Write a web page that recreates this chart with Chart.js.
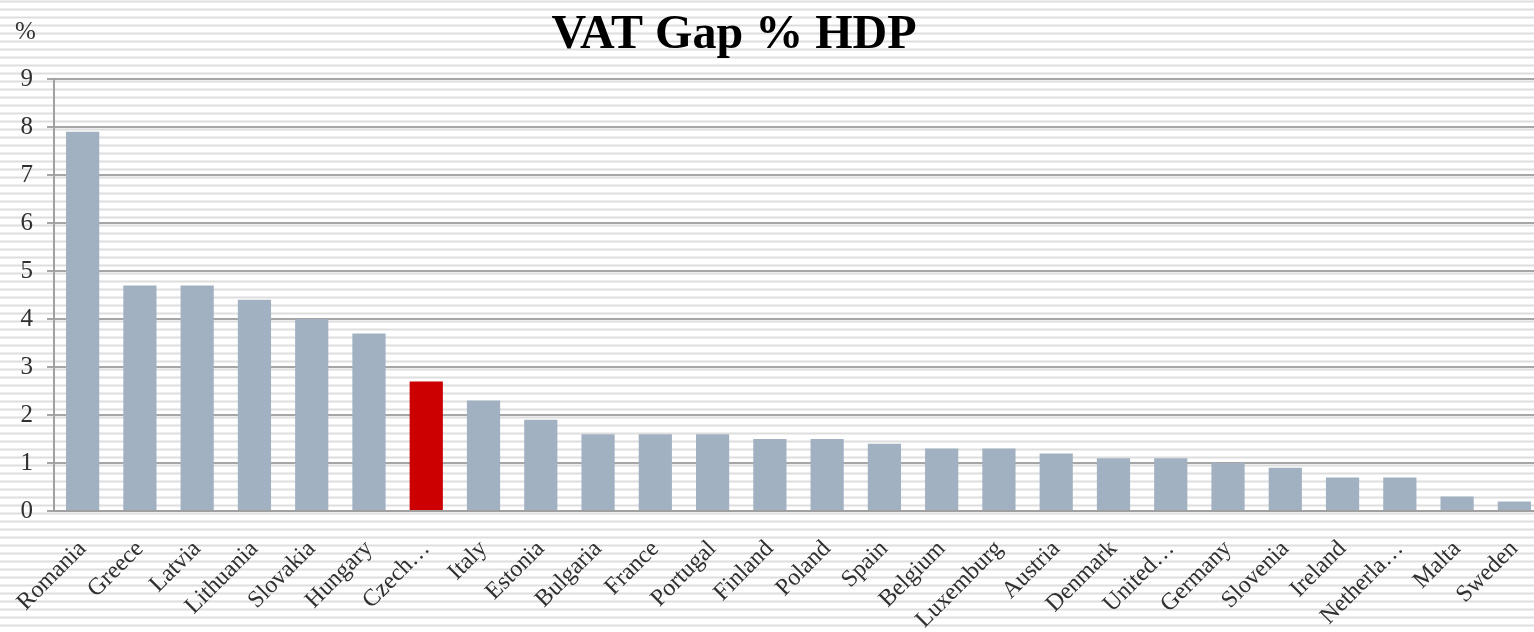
<!DOCTYPE html>
<html>
<head>
<meta charset="utf-8">
<script src="https://cdn.jsdelivr.net/npm/chart.js@4/dist/chart.umd.min.js"></script>
<style>
  html, body { margin: 0; padding: 0; overflow: hidden; background: #fff; }
  #wrap { position: relative; width: 1545px; height: 632px; }
</style>
</head>
<body>
<div id="wrap"><canvas id="c"></canvas></div>
<script>
const chartTitle = "VAT Gap % HDP";
const unitLabel = "%";
const categories = ["Romania","Greece","Latvia","Lithuania","Slovakia","Hungary","Czech…","Italy","Estonia","Bulgaria","France","Portugal","Finland","Poland","Spain","Belgium","Luxemburg","Austria","Denmark","United…","Germany","Slovenia","Ireland","Netherla…","Malta","Sweden"];
const vatGap = [7.9,4.7,4.7,4.4,4.0,3.7,2.7,2.3,1.9,1.6,1.6,1.6,1.5,1.5,1.4,1.3,1.3,1.2,1.1,1.1,1.0,0.9,0.7,0.7,0.3,0.2];
const highlighted = ["Czech…"];
const yTicks = [0,1,2,3,4,5,6,7,8,9];

const barColors = categories.map(c => highlighted.includes(c) ? '#cc0000' : '#a2b1c2');

const stripes = {
  id: 'stripes',
  beforeDraw(chart) {
    const ctx = chart.ctx;
    ctx.save();
    ctx.fillStyle = '#ffffff';
    ctx.fillRect(0, 0, chart.width, chart.height);
    ctx.fillStyle = '#dedede';
    for (let y = 0.5; y < chart.height; y += 8) {
      ctx.fillRect(0, y, chart.width, 2);
    }
    ctx.restore();
  },
  afterDraw(chart) {
    const ctx = chart.ctx;
    ctx.save();
    ctx.fillStyle = '#000';
    ctx.textAlign = 'center';
    ctx.textBaseline = 'alphabetic';
    ctx.font = 'bold 48px "Liberation Serif"';
    ctx.fillText(chartTitle, 734, 48);
    ctx.fillStyle = '#333333';
    ctx.textAlign = 'left';
    ctx.font = '25px "Liberation Serif"';
    ctx.fillText(unitLabel, 15, 39);
    ctx.restore();
  }
};

new Chart(document.getElementById('c'), {
  type: 'bar',
  data: {
    labels: categories,
    datasets: [{
      data: vatGap,
      backgroundColor: barColors,
      borderWidth: 0,
      barPercentage: 0.58,
      categoryPercentage: 1.0
    }]
  },
  plugins: [stripes],
  options: {
    responsive: true,
    maintainAspectRatio: false,
    animation: false,
    layout: { padding: { top: 79, right: 2, left: 0, bottom: 0 } },
    plugins: { legend: { display: false }, tooltip: { enabled: false }, title: { display: false } },
    scales: {
      x: {
        grid: { display: false, drawTicks: false },
        border: { display: true, color: '#a0a0a0', width: 2 },
        ticks: {
          autoSkip: false,
          minRotation: 45,
          maxRotation: 45,
          padding: 24,
          color: '#303030',
          font: { family: '"Liberation Serif"', size: 24 }
        },
        afterFit(scale) { scale.height = 121; scale.paddingLeft = 0; scale.paddingRight = 0; }
      },
      y: {
        min: 0,
        max: 9,
        afterBuildTicks(scale) { scale.ticks = yTicks.map(v => ({ value: v })); },
        grid: { color: '#a6a6a6', lineWidth: 2, tickLength: 7, drawTicks: true },
        border: { display: true, color: '#a0a0a0', width: 2 },
        ticks: {
          padding: 14,
          color: '#303030',
          font: { family: '"Liberation Serif"', size: 25 }
        },
        afterFit(scale) { scale.width = 54; scale.paddingTop = 0; scale.paddingBottom = 0; }
      }
    }
  }
});
</script>
</body>
</html>
